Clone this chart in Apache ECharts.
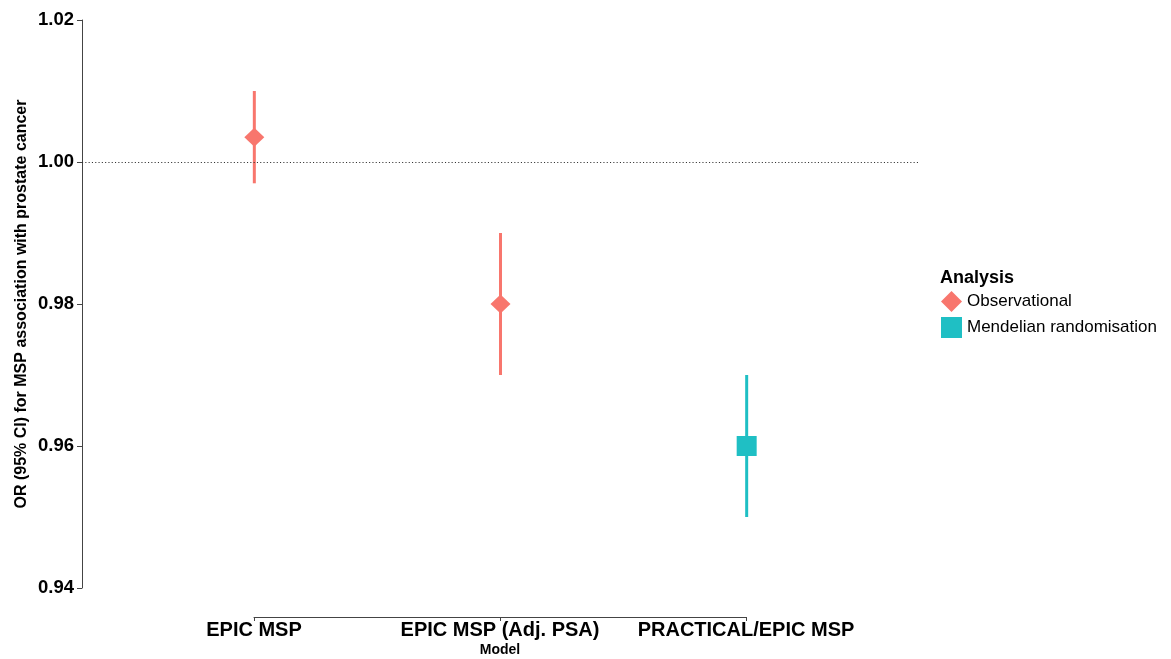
<!DOCTYPE html>
<html>
<head>
<meta charset="utf-8">
<script src="https://cdn.jsdelivr.net/npm/echarts/dist/echarts.min.js"></script>
<style>
  html, body { margin: 0; padding: 0; background: #fff; }
  #chart { width: 1171px; height: 659px; }
</style>
</head>
<body>
<div id="chart"></div>
<script>
// Odds ratios (95% CI) for MSP and prostate cancer, by model
const models = ['EPIC MSP', 'EPIC MSP (Adj. PSA)', 'PRACTICAL/EPIC MSP'];
const analysisOf = ['Observational', 'Observational', 'Mendelian randomisation'];
const orValues = [1.0035, 0.980, 0.960];
const ciLower = [0.997, 0.970, 0.950];
const ciUpper = [1.010, 0.990, 0.970];
const yTicks = [0.94, 0.96, 0.98, 1.00, 1.02];
const analyses = ['Observational', 'Mendelian randomisation'];
const analysisColors = ['#F8766D', '#1FBFC4'];
const analysisSymbols = ['diamond', 'rect'];
const analysisSizes = [[20, 19], 20];
const referenceLine = 1.00;

const FONT = "'Liberation Sans', Arial, Helvetica, sans-serif";

// model positions along the x scale: 1, 2, 3
const points = models.map((m, i) => ({
  x: i + 1, or: orValues[i], lo: ciLower[i], hi: ciUpper[i],
  g: analyses.indexOf(analysisOf[i])
}));

const pointSeries = analyses.map((name, g) => ({
  name: name,
  type: 'scatter',
  xAxisIndex: 0,
  yAxisIndex: 0,
  symbol: analysisSymbols[g],
  symbolSize: analysisSizes[g],
  itemStyle: { color: analysisColors[g], opacity: 1 },
  z: 5,
  data: points.filter(p => p.g === g).map(p => [p.x, p.or])
}));

// reference line at OR = 1
pointSeries[0].markLine = {
  silent: true,
  symbol: ['none', 'none'],
  label: { show: false },
  lineStyle: { color: '#333', width: 1.1, type: [1.1, 2.2] },
  data: [{ yAxis: referenceLine }]
};

// vertical confidence-interval bars
const ciSeries = {
  name: 'CI',
  type: 'custom',
  xAxisIndex: 0,
  yAxisIndex: 0,
  z: 3,
  encode: { x: 0, y: [1, 2] },
  data: points.map(p => [p.x, p.lo, p.hi, p.g]),
  renderItem: function (params, api) {
    const top = api.coord([api.value(0), api.value(2)]);
    const bot = api.coord([api.value(0), api.value(1)]);
    return {
      type: 'line',
      shape: { x1: top[0], y1: top[1], x2: bot[0], y2: bot[1] },
      style: { stroke: analysisColors[api.value(3)], lineWidth: 3 }
    };
  }
};

const option = {
  backgroundColor: '#fff',
  animation: false,
  textStyle: { fontFamily: FONT },
  title: {
    text: 'Analysis',
    left: 935,
    top: 264,
    textStyle: { fontFamily: FONT, fontSize: 18, fontWeight: 'bold', color: '#000' }
  },
  legend: {
    data: analyses,
    orient: 'vertical',
    left: 936,
    top: 286,
    itemWidth: 21,
    itemHeight: 21,
    itemGap: 5,
    textStyle: { fontFamily: FONT, fontSize: 17, color: '#000' }
  },
  grid: [
    { left: 82, right: 252, top: 20, bottom: 71 },
    { left: 254, right: 425, bottom: 42, height: 10 }
  ],
  xAxis: [
    {
      gridIndex: 0, type: 'value', min: 0.3, max: 3.7,
      show: false
    },
    {
      gridIndex: 1, type: 'value', min: 1, max: 3, interval: 1,
      name: 'Model',
      nameLocation: 'middle',
      nameGap: 26,
      nameMoveOverlap: false,
      nameTextStyle: { fontFamily: FONT, fontSize: 14, fontWeight: 'bold', color: '#000' },
      axisLine: { show: true, lineStyle: { color: '#444', width: 1 } },
      axisTick: { show: true, length: 4, lineStyle: { color: '#444' } },
      splitLine: { show: false },
      axisLabel: {
        margin: 3,
        fontFamily: FONT, fontSize: 20, fontWeight: 'bold', color: '#000',
        formatter: v => models[Math.round(v) - 1] || ''
      }
    }
  ],
  yAxis: [
    {
      gridIndex: 0, type: 'value',
      min: yTicks[0], max: yTicks[yTicks.length - 1], interval: 0.02,
      name: 'OR (95% CI) for MSP association with prostate cancer',
      nameLocation: 'middle',
      nameGap: 52,
      nameMoveOverlap: false,
      nameRotate: 90,
      nameTextStyle: { fontFamily: FONT, fontSize: 16, fontWeight: 'bold', color: '#000' },
      axisLine: { show: true, lineStyle: { color: '#444', width: 1 } },
      axisTick: { show: true, length: 5, lineStyle: { color: '#444' } },
      splitLine: { show: false },
      axisLabel: {
        margin: 8,
        fontFamily: FONT, fontSize: 18.5, fontWeight: 'bold', color: '#000',
        formatter: v => v.toFixed(2)
      }
    },
    { gridIndex: 1, type: 'value', show: false }
  ],
  series: [ciSeries].concat(pointSeries)
};

const chart = echarts.init(document.getElementById('chart'), null, { renderer: 'canvas' });
chart.setOption(option);
</script>
</body>
</html>
